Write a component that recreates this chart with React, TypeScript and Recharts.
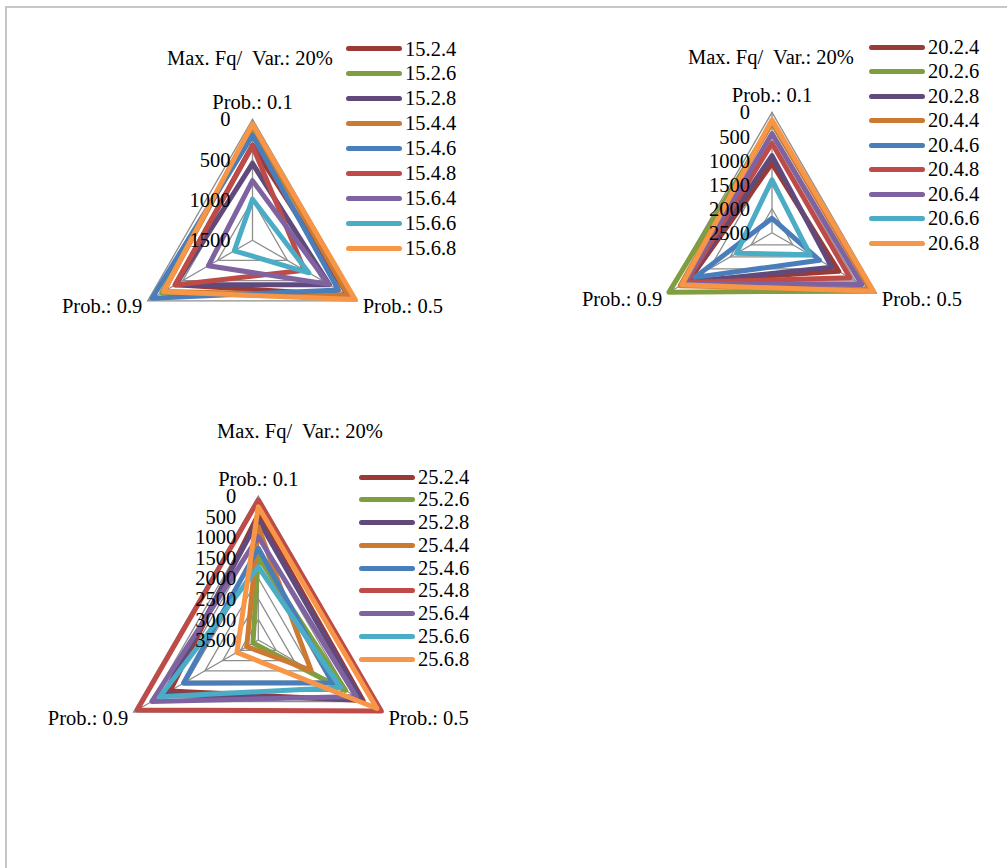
import React from 'react';
import { RadarChart, Radar, PolarGrid, PolarAngleAxis, PolarRadiusAxis, Legend } from 'recharts';

const font = "'Liberation Serif', 'Times New Roman', serif";
const fontSize = 20.5;

const categories = ['Prob.: 0.1', 'Prob.: 0.5', 'Prob.: 0.9'];
const colors = ['#9A3A36', '#7F9E3F', '#604A7C', '#CC7A32', '#4A7EBB', '#BE4B48', '#7F63A1', '#4BACC6', '#F79646'];
const title = 'Max. Fq/  Var.: 20%';

// chart 1 : 15.x.x  (values at Prob 0.1, 0.5, 0.9)
const names15 = ['15.2.4', '15.2.6', '15.2.8', '15.4.4', '15.4.6', '15.4.8', '15.6.4', '15.6.6', '15.6.8'];
const s15_2_4 = [320, 130, 400];
const s15_2_6 = [120, 80, 200];
const s15_2_8 = [550, 400, 400];
const s15_4_4 = [80, 130, 230];
const s15_4_6 = [200, 270, 62];
const s15_4_8 = [330, 756, 390];
const s15_6_4 = [760, 410, 868];
const s15_6_6 = [990, 694, 1240];
const s15_6_8 = [60, 30, 225];
const ticks15 = [0, 500, 1000, 1500];

// chart 2 : 20.x.x
const names20 = ['20.2.4', '20.2.6', '20.2.8', '20.4.4', '20.4.6', '20.4.8', '20.6.4', '20.6.6', '20.6.8'];
const s20_2_4 = [1060, 900, 500];
const s20_2_6 = [220, 100, 30];
const s20_2_8 = [900, 1070, 450];
const s20_4_4 = [200, 150, 300];
const s20_4_6 = [2200, 1360, 650];
const s20_4_8 = [640, 630, 450];
const s20_6_4 = [440, 350, 400];
const s20_6_6 = [1400, 1590, 1650];
const s20_6_8 = [160, 70, 340];
const ticks20 = [0, 500, 1000, 1500, 2000, 2500];

// chart 3 : 25.x.x
const names25 = ['25.2.4', '25.2.6', '25.2.8', '25.4.4', '25.4.6', '25.4.8', '25.6.4', '25.6.6', '25.6.8'];
const s25_2_4 = [450, 560, 1020];
const s25_2_6 = [1480, 1050, 3350];
const s25_2_8 = [580, 620, 850];
const s25_4_4 = [750, 2020, 3175];
const s25_4_6 = [1270, 1410, 1400];
const s25_4_8 = [100, 50, 100];
const s25_6_4 = [990, 750, 510];
const s25_6_6 = [1720, 1190, 740];
const s25_6_8 = [260, 170, 2900];
const ticks25 = [0, 500, 1000, 1500, 2000, 2500, 3000, 3500];

const AngleTick = (props: any) => {
  const { x, y, payload, index } = props;
  let tx = x;
  let ty = y;
  let anchor = 'middle';
  if (index === 0) {
    ty = y - 9;
  } else if (index === 1) {
    tx = x - 1.5;
    ty = y + 1.5;
    anchor = 'start';
  } else {
    tx = x + 1.5;
    ty = y + 1.5;
    anchor = 'end';
  }
  return (
    <text x={tx} y={ty} dy="0.35em" textAnchor={anchor} fontFamily={font} fontSize={fontSize} fill="#000">
      {payload.value}
    </text>
  );
};

function Panel(props: any) {
  const { cx, cy, r, ticks, names, series, titleX, titleY, legendX, legendY, rowH } = props;
  const max = ticks[ticks.length - 1];

  // radial axis is reversed in the original (0 on the rim), so store distance from the centre
  const data = categories.map((c, i) => {
    const row: any = { axis: c };
    names.forEach((n: string, k: number) => {
      row[n] = max - series[k][i];
    });
    return row;
  });

  const RadiusTick = (p: any) => (
    <text x={p.x - 22} y={p.y} dy="0.35em" textAnchor="end" fontFamily={font} fontSize={fontSize} fill="#000">
      {max - p.payload.value}
    </text>
  );

  const renderLegend = (lp: any) => (
    <div>
      {(lp.payload || []).map((item: any) => (
        <div key={item.value} style={{ display: 'flex', alignItems: 'center', height: rowH }}>
          <span style={{ display: 'inline-block', width: 56, height: 5, borderRadius: 3, background: item.color, marginRight: 3 }} />
          <span style={{ fontFamily: font, fontSize, color: '#000', lineHeight: rowH + 'px' }}>{item.value}</span>
        </div>
      ))}
    </div>
  );

  return (
    <>
      <div style={{ position: 'absolute', left: 0, top: 0 }}>
        <RadarChart width={1007} height={868} data={data} cx={cx} cy={cy} outerRadius={r}
          margin={{ top: 0, right: 0, bottom: 0, left: 0 }}>
          <PolarGrid gridType="polygon" stroke="#8E8E8E" strokeWidth={1.3} />
          <PolarAngleAxis dataKey="axis" tick={AngleTick} axisLine={false} tickLine={false} />
          <PolarRadiusAxis angle={90} type="number" domain={[0, max]} ticks={ticks} tickCount={ticks.length}
            axisLine={false} tick={RadiusTick} />
          {names.map((n: string, k: number) => (
            <Radar key={n} name={n} dataKey={n} stroke={colors[k]} strokeWidth={5} fill="none" fillOpacity={0}
              strokeLinejoin="round" dot={false} isAnimationActive={false} />
          ))}
          <Legend layout="vertical" align="right" verticalAlign="top" content={renderLegend}
            wrapperStyle={{ left: legendX, top: legendY - rowH / 2, right: 'auto', bottom: 'auto', width: 120 }} />
        </RadarChart>
      </div>
      <div style={{ position: 'absolute', left: titleX - 150, top: titleY - 13, width: 300, textAlign: 'center',
        fontFamily: font, fontSize, lineHeight: '26px', whiteSpace: 'pre', color: '#000' }}>
        {title}
      </div>
    </>
  );
}

export default function App() {
  return (
    <div style={{ position: 'absolute', left: 0, top: 0, width: 1007, height: 868, overflow: 'hidden', background: '#fff' }}>
      <div style={{ position: 'absolute', left: 5, top: 6, width: 1100, height: 1000,
        borderLeft: '2px solid #C6C6C6', borderTop: '2px solid #C6C6C6' }} />
      <Panel cx={252.5} cy={240.3} r={121} ticks={ticks15} names={names15}
        series={[s15_2_4, s15_2_6, s15_2_8, s15_4_4, s15_4_6, s15_4_8, s15_6_4, s15_6_6, s15_6_8]}
        titleX={250} titleY={58} legendX={346} legendY={49} rowH={24.9} />
      <Panel cx={772} cy={232.8} r={120.5} ticks={ticks20} names={names20}
        series={[s20_2_4, s20_2_6, s20_2_8, s20_4_4, s20_4_6, s20_4_8, s20_6_4, s20_6_6, s20_6_8]}
        titleX={771} titleY={57} legendX={869} legendY={47} rowH={24.5} />
      <Panel cx={258.3} cy={640} r={144} ticks={ticks25} names={names25}
        series={[s25_2_4, s25_2_6, s25_2_8, s25_4_4, s25_4_6, s25_4_8, s25_6_4, s25_6_6, s25_6_8]}
        titleX={300} titleY={431} legendX={359} legendY={477} rowH={22.75} />
    </div>
  );
}
